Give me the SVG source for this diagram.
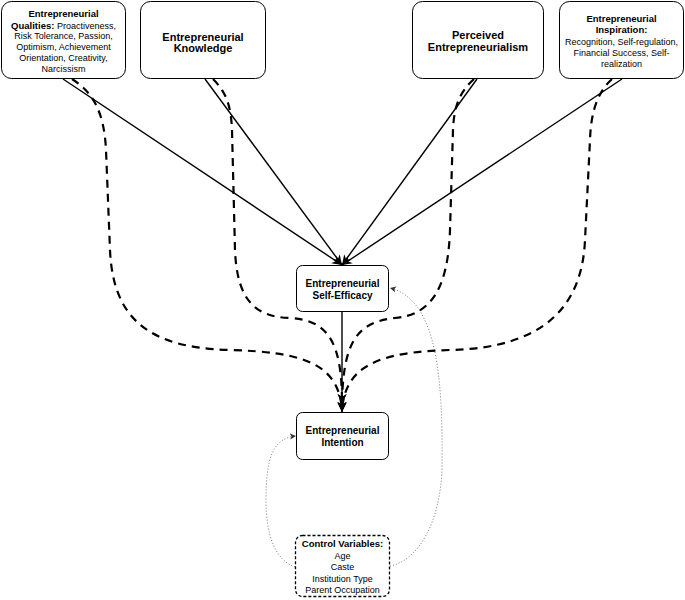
<svg xmlns="http://www.w3.org/2000/svg" width="685" height="600" viewBox="0 0 685 600">
<style>
.box{fill:#fff;stroke:#000;stroke-width:1}
.cbox{fill:#fff;stroke:#000;stroke-width:1.3;stroke-dasharray:3 2}
text{font-family:"Liberation Sans",Arial,sans-serif;fill:#000;text-anchor:middle}
.b{font-weight:bold}
.s9{font-size:9px}
.s95{font-size:9.5px}
.s10{font-size:10px}
.s11{font-size:11px}
.solid{fill:none;stroke:#000;stroke-width:1.4}
.dash{fill:none;stroke:#000;stroke-width:2.2;stroke-dasharray:8 6}
.dot{fill:none;stroke:#777;stroke-width:1;stroke-dasharray:1 2}
</style>
<defs>
<marker id="arr" markerUnits="userSpaceOnUse" markerWidth="12" markerHeight="10" refX="10" refY="5" orient="auto">
<path d="M0,0.5 L10,5 L0,9.5 L3,5 z" fill="#000"/>
</marker>
<marker id="arrs" markerUnits="userSpaceOnUse" markerWidth="8" markerHeight="8" refX="6" refY="3" orient="auto">
<path d="M0,0 L6,3 L0,6 L1.5,3 z" fill="#333"/>
</marker>
</defs>
<g id="connectors">
<path class="solid" d="M63,79 L342,265" marker-end="url(#arr)"/>
<path class="solid" d="M205,79 L342,265" marker-end="url(#arr)"/>
<path class="solid" d="M477,79 L342,265" marker-end="url(#arr)"/>
<path class="solid" d="M622,79 L342,265" marker-end="url(#arr)"/>
<path class="solid" d="M342,312 L342,412" marker-end="url(#arr)"/>
<path class="dash" d="M72,79 C92,92 104,110 106,150 L110,250 C113,320 150,348 230,350 C300,352 340,362 342,412" marker-end="url(#arr)"/>
<path class="dash" d="M213,79 C226,92 231,105 232,130 L235,250 C237,300 255,317 290,318 C330,320 342,345 342,404" marker-end="url(#arr)"/>
<path class="dash" d="M474,79 C460,92 454,105 453,130 L450,230 C448,290 430,315 395,318 C355,322 343,345 342,404" marker-end="url(#arr)"/>
<path class="dash" d="M612,79 C598,92 591,110 590,140 L585,240 C582,310 540,348 450,350 C380,352 344,365 342,412" marker-end="url(#arr)"/>
<path class="dot" d="M295,567 C275,560 266,535 266,500 C266,460 272,438 296,436" marker-end="url(#arrs)"/>
<path class="dot" d="M390,566 C420,560 440,520 442,470 C443,380 438,300 390,288" marker-end="url(#arrs)"/>
</g>
<g id="qualities">
<rect class="box" x="1.5" y="1.5" width="124" height="77" rx="10"/>
<text class="s95 b" x="63.5" y="17">Entrepreneurial</text>
<text class="s9" x="63.5" y="28.5"><tspan class="b s95">Qualities:</tspan> Proactiveness,</text>
<text class="s9" x="63.5" y="39">Risk Tolerance, Passion,</text>
<text class="s9" x="63.5" y="50">Optimism, Achievement</text>
<text class="s9" x="63.5" y="61">Orientation, Creativity,</text>
<text class="s9" x="63.5" y="72">Narcissism</text>
</g>
<g id="knowledge">
<rect class="box" x="140.5" y="1.5" width="125" height="77" rx="10"/>
<text class="s11 b" x="203" y="41">Entrepreneurial</text>
<text class="s11 b" x="203" y="52">Knowledge</text>
</g>
<g id="perceived">
<rect class="box" x="412.5" y="1.5" width="131" height="77" rx="10"/>
<text class="s11 b" x="478" y="39">Perceived</text>
<text class="s11 b" x="478" y="51">Entrepreneurialism</text>
</g>
<g id="inspiration">
<rect class="box" x="559.5" y="1.5" width="124" height="77" rx="10"/>
<text class="s95 b" x="621.5" y="22">Entrepreneurial</text>
<text class="s95 b" x="621.5" y="33">Inspiration:</text>
<text class="s9" x="621.5" y="45">Recognition, Self-regulation,</text>
<text class="s9" x="621.5" y="56">Financial Success, Self-</text>
<text class="s9" x="621.5" y="67">realization</text>
</g>
<g id="selfefficacy">
<rect class="box" x="296.5" y="265.5" width="92" height="46" rx="6"/>
<text class="s10 b" x="342.5" y="287">Entrepreneurial</text>
<text class="s10 b" x="342.5" y="299">Self-Efficacy</text>
</g>
<g id="intention">
<rect class="box" x="296.5" y="412.5" width="92" height="47" rx="6"/>
<text class="s10 b" x="342.5" y="434">Entrepreneurial</text>
<text class="s10 b" x="342.5" y="446">Intention</text>
</g>
<g id="control">
<rect class="cbox" x="295.5" y="535.5" width="94" height="61" rx="7"/>
<text class="s95 b" x="342.5" y="547">Control Variables:</text>
<text class="s9" x="342.5" y="559">Age</text>
<text class="s9" x="342.5" y="570">Caste</text>
<text class="s9" x="342.5" y="582">Institution Type</text>
<text class="s9" x="342.5" y="593">Parent Occupation</text>
</g>
</svg>
